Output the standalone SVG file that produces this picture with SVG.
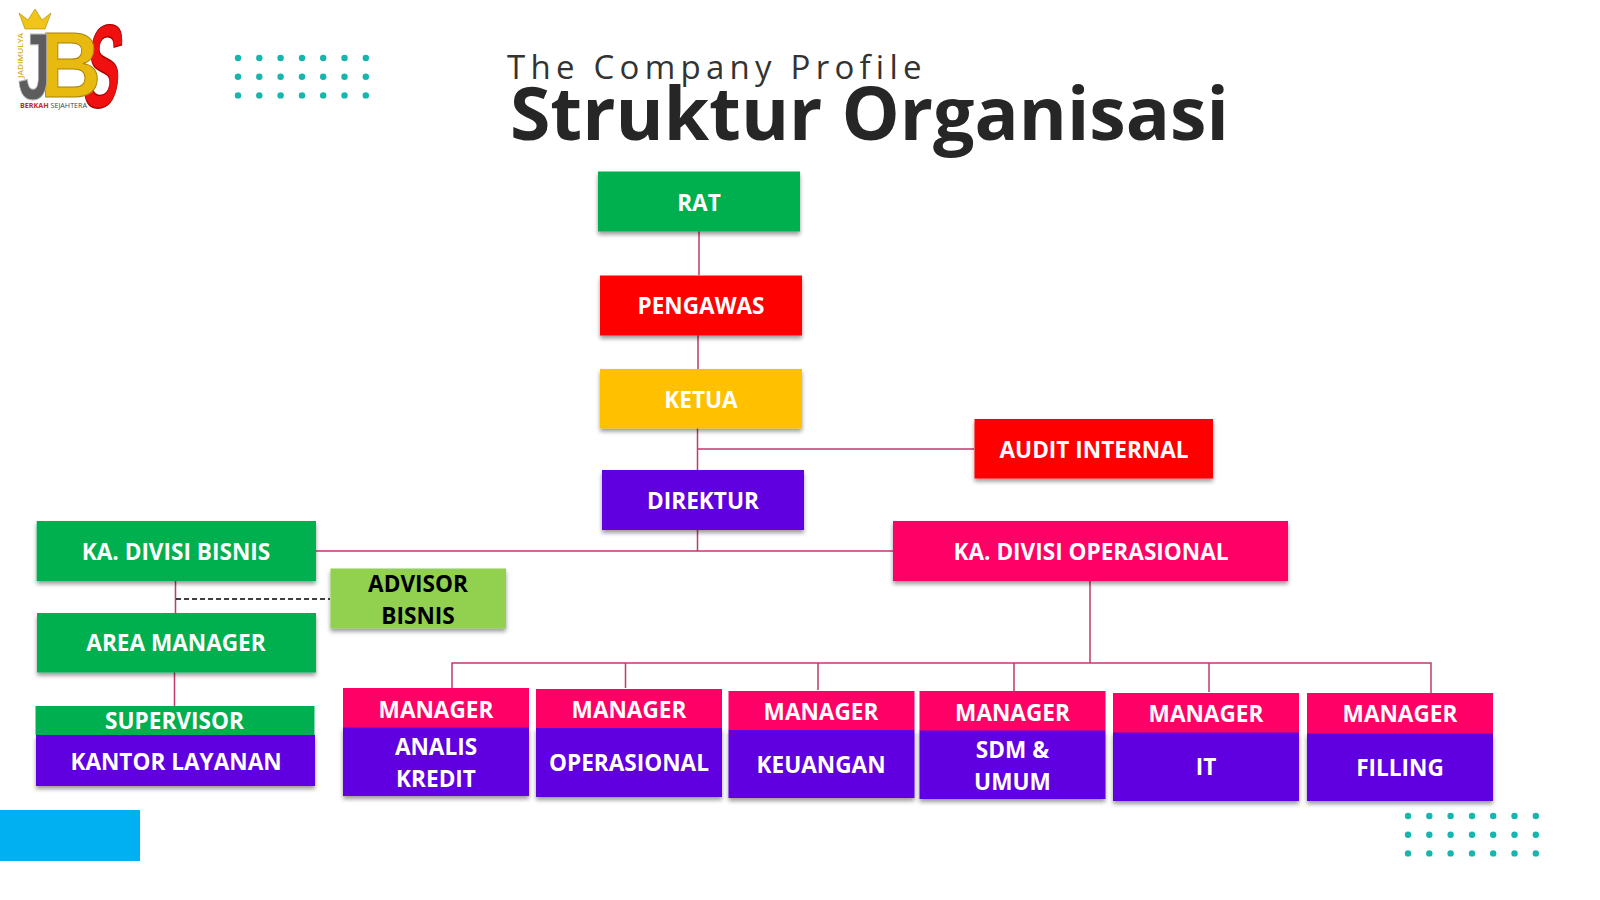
<svg xmlns="http://www.w3.org/2000/svg" width="1600" height="900" viewBox="0 0 1600 900">
<style>
text{font-family:"Open Sans","Noto Sans","Liberation Sans",sans-serif}
.l{font-size:22.6px;font-weight:700;fill:#fff;text-anchor:middle}
.k{font-size:22.6px;font-weight:700;fill:#000;text-anchor:middle}
.c{fill:none;stroke:#c2386f;stroke-width:1.5}
.s{filter:url(#sh)}
.g{fill:#00b050}.r{fill:#ff0000}.y{fill:#ffc000}.v{fill:#6000e0}.p{fill:#ff0066}.a{fill:#92d050}
.d{fill:#16b5ad}
.lg{font-family:"Liberation Sans",sans-serif;font-weight:700}
</style>
<defs>
<filter id="sh" x="-10%" y="-20%" width="120%" height="150%"><feDropShadow dx="0" dy="3" stdDeviation="2" flood-color="#000" flood-opacity="0.4"/></filter>
<g id="dots">
<circle class="d" cx="0" cy="0" r="3.2"/><circle class="d" cx="21.3" cy="0" r="3.2"/><circle class="d" cx="42.6" cy="0" r="3.2"/><circle class="d" cx="64" cy="0" r="3.2"/><circle class="d" cx="85.2" cy="0" r="3.2"/><circle class="d" cx="106.5" cy="0" r="3.2"/><circle class="d" cx="127.8" cy="0" r="3.2"/>
<circle class="d" cx="0" cy="18.7" r="3.2"/><circle class="d" cx="21.3" cy="18.7" r="3.2"/><circle class="d" cx="42.6" cy="18.7" r="3.2"/><circle class="d" cx="64" cy="18.7" r="3.2"/><circle class="d" cx="85.2" cy="18.7" r="3.2"/><circle class="d" cx="106.5" cy="18.7" r="3.2"/><circle class="d" cx="127.8" cy="18.7" r="3.2"/>
<circle class="d" cx="0" cy="37.4" r="3.2"/><circle class="d" cx="21.3" cy="37.4" r="3.2"/><circle class="d" cx="42.6" cy="37.4" r="3.2"/><circle class="d" cx="64" cy="37.4" r="3.2"/><circle class="d" cx="85.2" cy="37.4" r="3.2"/><circle class="d" cx="106.5" cy="37.4" r="3.2"/><circle class="d" cx="127.8" cy="37.4" r="3.2"/>
</g>
</defs>
<rect width="1600" height="900" fill="#fff"/>
<g id="logo">
<path d="M19 13L28 20L35 9L42 20L51 13L45 29H25Z" fill="#f0c419" stroke="#b8900a" stroke-width="0.7"/>
<text class="lg" transform="translate(80,107) skewX(-8) scale(.46,1)" font-size="118" fill="#f01010" stroke="#a00" stroke-width="1.500">S</text>
<text class="lg" transform="translate(40,97) scale(.92,1)" font-size="92" fill="#e8b90f" stroke="#a98506" stroke-width="1">B</text>
<text class="lg" transform="translate(18,99) scale(.62,1)" font-size="95" fill="#5d5d5d" stroke="#bbb" stroke-width="1">J</text>
<text transform="translate(23,78) rotate(-90)" font-size="7.500" font-weight="600" fill="#d9b020" textLength="45" lengthAdjust="spacingAndGlyphs">JADIMULYA</text>
<text x="20" y="108" font-size="7.600" font-weight="700" fill="#c0272d" textLength="67" lengthAdjust="spacingAndGlyphs">BERKAH <tspan fill="#444" font-weight="400">SEJAHTERA</tspan></text>
</g>
<use href="#dots" x="238" y="58"/>
<use href="#dots" x="1408" y="816"/>
<rect id="blue-bar" x="0" y="810" width="140" height="51" fill="#00b0f0"/>
<text id="subtitle" x="507" y="78.500" font-size="33" fill="#333" letter-spacing="5.250">The Company Profile</text>
<text id="title" x="510" y="140" font-size="73.300" font-weight="700" fill="#262626">Struktur Organisasi</text>
<g id="connectors">
<path class="c" d="M699 231V275M698 335V369M697.500 428V551M698 449H974M316 551H893M1090 581V663M452 688V663H1431V693M625.500 663V688M818 663V690M1014 663V691M1209 663V692"/>
<path class="c" d="M175.500 581V613M174.500 672V706"/>
<path d="M176 599H330" fill="none" stroke="#000" stroke-width="1.300" stroke-dasharray="5 3"/>
</g>
<g id="rat"><rect class="g s" x="598" y="171.500" width="202" height="60"/><text class="l" x="699" y="210.500">RAT</text></g>
<g id="pengawas"><rect class="r s" x="600" y="275.500" width="202" height="60"/><text class="l" x="701" y="314">PENGAWAS</text></g>
<g id="ketua"><rect class="y s" x="600" y="369" width="202" height="59.500"/><text class="l" x="701" y="407.500">KETUA</text></g>
<g id="audit-internal"><rect class="r s" x="974.500" y="419" width="238.500" height="59.500"/><text class="l" x="1094" y="457.500">AUDIT INTERNAL</text></g>
<g id="direktur"><rect class="v s" x="602" y="470" width="202" height="60"/><text class="l" x="703" y="508.500">DIREKTUR</text></g>
<g id="ka-divisi-operasional"><rect class="p s" x="893" y="521" width="395" height="60"/><text class="l" x="1091" y="559.700">KA. DIVISI OPERASIONAL</text></g>
<g id="ka-divisi-bisnis"><rect class="g s" x="36.700" y="521" width="279.300" height="60"/><text class="l" x="176" y="559.700">KA. DIVISI BISNIS</text></g>
<g id="advisor-bisnis"><rect class="a s" x="330.500" y="568.500" width="175.500" height="60"/><text class="k" x="418" y="591.700">ADVISOR</text><text class="k" x="418" y="623.700">BISNIS</text></g>
<g id="area-manager"><rect class="g s" x="37" y="613" width="279" height="59.500"/><text class="l" x="176" y="651">AREA MANAGER</text></g>
<g id="supervisor-kantor-layanan"><rect class="v s" x="36" y="735" width="279" height="51"/><rect class="g" x="35.500" y="706" width="279" height="29"/><text class="l" x="174.500" y="729">SUPERVISOR</text><text class="l" x="176" y="770">KANTOR LAYANAN</text></g>
<g id="manager-analis-kredit"><rect class="v s" x="343" y="727" width="186" height="69"/><rect class="p" x="343" y="688" width="186" height="39.500"/><text class="l" x="436" y="717.500">MANAGER</text><text class="l" x="436" y="755">ANALIS</text><text class="l" x="436" y="787">KREDIT</text></g>
<g id="manager-operasional"><rect class="v s" x="536" y="727.500" width="186" height="69.500"/><rect class="p" x="536" y="689" width="186" height="39"/><text class="l" x="629" y="717.500">MANAGER</text><text class="l" x="629" y="771">OPERASIONAL</text></g>
<g id="manager-keuangan"><rect class="v s" x="728.500" y="729.500" width="186" height="68.500"/><rect class="p" x="728.500" y="691" width="186" height="39"/><text class="l" x="821" y="719.500">MANAGER</text><text class="l" x="821" y="773">KEUANGAN</text></g>
<g id="manager-sdm-umum"><rect class="v s" x="919.500" y="730" width="186" height="69"/><rect class="p" x="919.500" y="691" width="186" height="39.500"/><text class="l" x="1012.500" y="720.500">MANAGER</text><text class="l" x="1012.500" y="758">SDM &amp;</text><text class="l" x="1012.500" y="790">UMUM</text></g>
<g id="manager-it"><rect class="v s" x="1113" y="732" width="186" height="69"/><rect class="p" x="1113" y="693" width="186" height="39.500"/><text class="l" x="1206" y="722">MANAGER</text><text class="l" x="1206" y="775">IT</text></g>
<g id="manager-filling"><rect class="v s" x="1307" y="733" width="186" height="68"/><rect class="p" x="1307" y="693" width="186" height="40.500"/><text class="l" x="1400" y="722">MANAGER</text><text class="l" x="1400" y="776">FILLING</text></g>
</svg>
